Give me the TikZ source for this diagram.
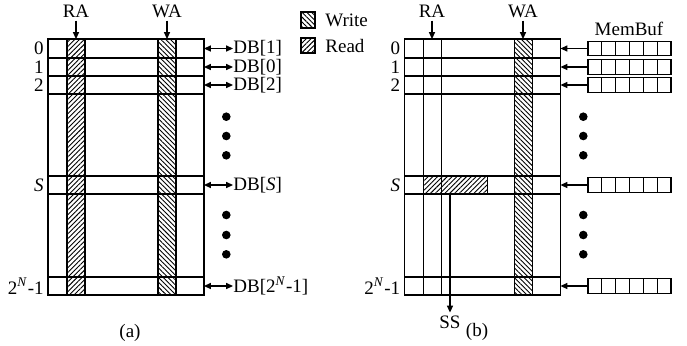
\documentclass[tikz,border=0pt]{standalone}
\usepackage{fontspec}
\setmainfont{Liberation Serif}
\usetikzlibrary{arrows.meta,patterns.meta}
\tikzset{
  px/.style={x=0.5pt,y=-0.5pt},
  grid/.style={line width=0.6pt},
  readfill/.style={pattern={Lines[angle=45,distance=1.7pt,line width=0.45pt]}},
  writefill/.style={pattern={Lines[angle=-45,distance=1.7pt,line width=0.45pt]}},
  lbl/.style={inner sep=0pt,font=\fontsize{9.5}{11}\selectfont},
  tip/.style={-{Triangle[length=3.4pt,width=3pt]},line width=0.6pt},
  dtip/.style={{Triangle[length=3.4pt,width=3pt]}-{Triangle[length=3.4pt,width=3pt]},line width=0.6pt},
  dot/.style={circle,fill=black,inner sep=0pt,minimum size=4.3pt},
}
\begin{document}
\begin{tikzpicture}[px]
\useasboundingbox (0,0) rectangle (687,345);

% ---------------- panel (a) ----------------
% hatched read / write columns
\fill[readfill] (67,39) rectangle (85,295);
\fill[writefill] (158,39) rectangle (176,295);
% memory array rows and columns
\draw[grid] (48,39) rectangle (204,295);
\draw[grid] (48,58) -- (204,58) (48,76) -- (204,76) (48,94) -- (204,94);
\draw[grid] (48,176) -- (204,176) (48,194) -- (204,194) (48,277) -- (204,277);
\draw[grid] (67,39) -- (67,295) (85,39) -- (85,295);
\draw[grid] (158,39) -- (158,295) (176,39) -- (176,295);

% port labels
\node[lbl,anchor=base] (raA) at (76,17.5) {RA};
\node[lbl,anchor=base] (waA) at (167,17.5) {WA};
\coordinate (raAt) at (76,39);
\coordinate (waAt) at (167,39);
\draw[tip] (76,20.5) -- (raAt);
\draw[tip] (167,20.5) -- (waAt);

% row labels
\node[lbl,anchor=east] (a0) at (44,48.5) {0};
\node[lbl,anchor=east] (a1) at (44,67) {1};
\node[lbl,anchor=east] (a2) at (44,85) {2};
\node[lbl,anchor=east] (aS) at (44,185) {\textit{S}};
\node[lbl,anchor=east] (aN) at (44,286) {2\textsuperscript{\textit{N}}-1};

% data buses
\node[lbl,anchor=west] (db0) at (233,48.5) {DB[1]};
\node[lbl,anchor=west] (db1) at (233,67) {DB[0]};
\node[lbl,anchor=west] (db2) at (233,85) {DB[2]};
\node[lbl,anchor=west] (dbS) at (233,185) {DB[\textit{S}]};
\node[lbl,anchor=west] (dbN) at (233,286) {DB[2\textsuperscript{\textit{N}}-1]};
\foreach \r/\y in {0/48.5,1/67,2/85,S/185,N/286}{
  \coordinate (ea\r) at (204,\y);
  \draw[dtip] (ea\r) -- (db\r.west);
}

% ellipsis dots
\foreach \y [count=\i] in {116.7,136,155.3,215,235,254.3}
  \node[dot] (dota\i) at (226.3,\y) {};

\node[lbl] (capA) at (130,333) {(a)};

% ---------------- legend ----------------
\draw[grid,writefill] (301,12) rectangle (315,28);
\node[lbl,anchor=west] (lgW) at (325,20.5) {Write};
\draw[grid,readfill] (301,38) rectangle (315,53);
\node[lbl,anchor=west] (lgR) at (325,46) {Read};

% ---------------- panel (b) ----------------
% write column and the read span of row S
\fill[writefill] (514.5,39) rectangle (532.5,295);
\fill[readfill] (423.5,176) rectangle (487.5,194);
\draw[grid] (404.5,39) rectangle (560.5,295);
\draw[grid] (404.5,58) -- (560.5,58) (404.5,76) -- (560.5,76) (404.5,94) -- (560.5,94);
\draw[grid] (404.5,176) -- (560.5,176) (404.5,194) -- (560.5,194) (404.5,277) -- (560.5,277);
\draw[grid] (423.5,39) -- (423.5,295) (441.5,39) -- (441.5,295);
\draw[grid] (514.5,39) -- (514.5,295) (532.5,39) -- (532.5,295);
\draw[grid] (487.5,176) -- (487.5,194);

\node[lbl,anchor=base] (raB) at (432,17.5) {RA};
\node[lbl,anchor=base] (waB) at (523,17.5) {WA};
\coordinate (raBt) at (432,39);
\coordinate (waBt) at (523,39);
\draw[tip] (432,20.5) -- (raBt);
\draw[tip] (523,20.5) -- (waBt);

\node[lbl,anchor=east] (b0) at (400.5,48.5) {0};
\node[lbl,anchor=east] (b1) at (400.5,67) {1};
\node[lbl,anchor=east] (b2) at (400.5,85) {2};
\node[lbl,anchor=east] (bS) at (400.5,185) {\textit{S}};
\node[lbl,anchor=east] (bN) at (400.5,286) {2\textsuperscript{\textit{N}}-1};

% selected segment output
\coordinate (ssTop) at (450,194);
\node[lbl,anchor=base] (ss) at (450,328.5) {SS};
\draw[tip] (ssTop) -- (450,312.5);

% memory buffers feeding each row
\node[lbl,anchor=base] (mb) at (629,35) {MemBuf};
\foreach \r/\y in {0/48.5,1/67,2/85,S/185,N/286}{
  \coordinate (buf\r) at (588,\y);
  \coordinate (eb\r) at (560.5,\y);
  \foreach \k in {0,...,5}
    \draw[grid] (588+\k*13.83,\y-7.3) rectangle (588+\k*13.83+13.83,\y+7.3);
  \draw[tip] (buf\r) -- (eb\r);
}

\foreach \y [count=\i] in {116.7,136,155.3,215,235,254.3}
  \node[dot] (dotb\i) at (583.3,\y) {};

\node[lbl] (capB) at (477,332) {(b)};
\end{tikzpicture}
\end{document}
